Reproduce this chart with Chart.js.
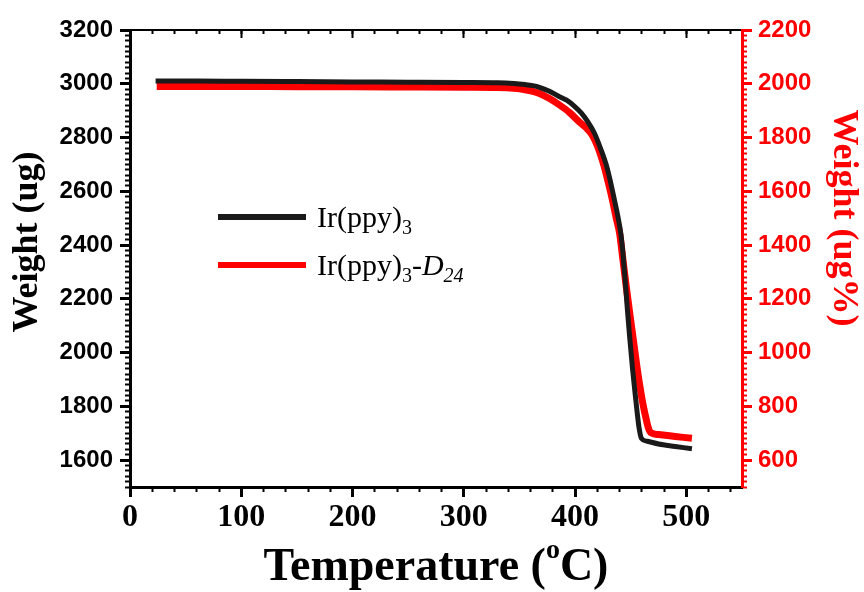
<!DOCTYPE html>
<html>
<head>
  <meta charset="UTF-8">
  <title>TGA</title>
  <script src="https://cdn.jsdelivr.net/npm/chart.js@4.4.1/dist/chart.umd.min.js"></script>
  <style>
    html, body { margin: 0; padding: 0; background: #fff; }
  </style>
</head>
<body>
  <canvas id="myChart" width="864" height="592"></canvas>
  <script>
    // Ir(ppy)3 - left axis (ug)
    const blackTemp = [23, 60, 100, 150, 200, 250, 300, 330, 345, 355, 362, 368, 377, 386, 392.4, 399, 405.7, 411.5, 417.4, 423,
      428.6, 432, 435.4, 438.3, 441.2, 443, 445, 447, 449, 451.5, 454, 456, 457.5, 459.6, 465, 475, 490, 505];
    const blackWeight = [3010, 3010, 3009, 3008, 3007, 3006, 3005, 3004, 3001, 2997, 2993, 2987, 2972, 2952, 2939, 2918, 2891, 2858, 2816, 2758,
      2690, 2632, 2567, 2510, 2440, 2370, 2270, 2160, 2060, 1945, 1845, 1770, 1720, 1681, 1670, 1660, 1651, 1642];

    // Ir(ppy)3-D24 - right axis (ug%)
    const redTemp = [24, 60, 100, 150, 200, 250, 300, 330, 345, 355, 362, 368, 377, 386, 395, 404, 410, 415, 420, 426,
      430, 433.6, 437, 440, 443, 446, 449, 452, 455, 458, 461, 464, 466, 468, 475, 490, 505];
    const redWeight = [1990, 1990, 1990, 1989, 1989, 1988, 1987, 1986, 1983, 1978, 1972, 1964, 1945, 1921, 1893, 1857, 1836, 1812, 1770, 1695,
      1630, 1567, 1500, 1444, 1345, 1245, 1150, 1058, 965, 880, 808, 750, 718, 702, 695, 688, 681];

    const seriesNames = ['Ir(ppy)3', 'Ir(ppy)3-D24'];
    const xRange = [0, 550];
    const yLeftRange = [1500, 3200];
    const yRightRange = [500, 2200];

    const serif = "'Liberation Serif', 'Times New Roman', serif";
    const sans = "'Liberation Sans', Arial, sans-serif";

    function pts(xs, ys) {
      return xs.map((x, i) => ({ x: x, y: ys[i] }));
    }

    function drawRich(ctx, parts, x, y, rot, color) {
      ctx.save();
      ctx.translate(x, y);
      ctx.rotate(rot);
      ctx.fillStyle = color;
      ctx.textBaseline = 'alphabetic';
      let w = 0;
      parts.forEach(p => { ctx.font = p.font; w += ctx.measureText(p.t).width; });
      let cx = -w / 2;
      parts.forEach(p => {
        ctx.font = p.font;
        ctx.fillText(p.t, cx, p.dy || 0);
        cx += ctx.measureText(p.t).width;
      });
      ctx.restore();
    }

    function drawLeft(ctx, parts, x, y) {
      ctx.save();
      ctx.fillStyle = '#000';
      ctx.textBaseline = 'alphabetic';
      let cx = x;
      parts.forEach(p => {
        ctx.font = p.font;
        ctx.fillText(p.t, cx, y + (p.dy || 0));
        cx += ctx.measureText(p.t).width;
      });
      ctx.restore();
    }

    const titlesAndLegend = {
      id: 'titlesAndLegend',
      afterDraw(chart) {
        const ctx = chart.ctx;
        const xs = chart.scales.x;
        const tb = 'bold 46px ' + serif;
        drawRich(ctx, [
          { t: 'Temperature (', font: tb },
          { t: 'o', font: 'bold 28px ' + serif, dy: -22 },
          { t: 'C)', font: tb }
        ], (xs.left + xs.right) / 2, 580, 0, '#000');

        const yb = 'bold 36px ' + serif;
        drawRich(ctx, [{ t: 'Weight (ug)', font: yb }], 37, 242, -Math.PI / 2, '#000');
        drawRich(ctx, [{ t: 'Weight (ug%)', font: yb }], 834, 218, Math.PI / 2, '#ff0000');

        // legend
        const reg = '30px ' + serif;
        const sub = '20px ' + serif;
        const it = 'italic 30px ' + serif;
        const itSub = 'italic 20px ' + serif;
        const rows = [
          [{ t: 'Ir(ppy)', font: reg }, { t: '3', font: sub, dy: 7 }],
          [{ t: 'Ir(ppy)', font: reg }, { t: '3', font: sub, dy: 7 }, { t: '-', font: reg },
           { t: 'D', font: it }, { t: '24', font: itSub, dy: 7 }]
        ];
        const rowY = [217, 265];
        chart.data.datasets.forEach((ds, i) => {
          ctx.save();
          ctx.strokeStyle = ds.borderColor;
          ctx.lineWidth = 6;
          ctx.beginPath();
          ctx.moveTo(218, rowY[i]);
          ctx.lineTo(306, rowY[i]);
          ctx.stroke();
          ctx.restore();
          drawLeft(ctx, rows[i], 317, rowY[i] + 10);
        });
      }
    };

    function axisBase(pos, range, step, len, width, color, w) {
      return {
        type: 'linear', position: pos, min: range[0], max: range[1], weight: w,
        border: { display: false },
        grid: { drawOnChartArea: false, drawTicks: true, tickLength: len, tickWidth: width, tickColor: color },
        ticks: { stepSize: step, display: false, includeBounds: false, autoSkip: false }
      };
    }

    const ctx = document.getElementById('myChart').getContext('2d');

    const xMain = axisBase('bottom', xRange, 100, 10, 3, '#000', 0);
    xMain.border = { display: true, color: '#000', width: 3 };
    xMain.ticks = { stepSize: 100, display: true, includeBounds: false, autoSkip: false, maxRotation: 0, padding: 2,
      color: '#000', font: { family: serif, weight: 'bold', size: 32 }, callback: v => String(v) };
    xMain.afterFit = s => { s.height = 105; };

    const xMinor = axisBase('bottom', xRange, 20, 5, 2, '#000', -1);
    xMinor.afterFit = s => { s.height = 0; };

    const xTop = axisBase('top', xRange, 100, -8, 2, '#000', 0);
    xTop.border = { display: true, color: '#000', width: 2 };
    xTop.afterFit = s => { s.height = 30; };

    const xTopMinor = axisBase('top', xRange, 20, -4, 2, '#000', -1);
    xTopMinor.afterFit = s => { s.height = 0; };

    const yMain = axisBase('left', yLeftRange, 200, 10, 3, '#000', 0);
    yMain.border = { display: true, color: '#000', width: 3 };
    yMain.ticks = { stepSize: 200, display: true, includeBounds: false, autoSkip: false, padding: 7,
      color: '#000', font: { family: sans, weight: 'bold', size: 24 }, callback: v => String(v) };
    yMain.afterFit = s => { s.width = 130; };

    const yMinor = axisBase('left', yLeftRange, 20, 5, 2, '#000', -1);
    yMinor.afterFit = s => { s.width = 0; };

    const y2Main = axisBase('right', yRightRange, 200, 10, 3, '#ff0000', 0);
    y2Main.border = { display: true, color: '#ff0000', width: 3 };
    y2Main.ticks = { stepSize: 200, display: true, includeBounds: false, autoSkip: false, padding: 6,
      color: '#ff0000', font: { family: sans, weight: 'bold', size: 24 }, callback: v => String(v) };
    y2Main.afterFit = s => { s.width = 122; };

    const y2Minor = axisBase('right', yRightRange, 20, 5, 2, '#ff0000', -1);
    y2Minor.afterFit = s => { s.width = 0; };

    const chart = new Chart(ctx, {
      type: 'line',
      data: {
        datasets: [{
          label: seriesNames[0],
          data: pts(blackTemp, blackWeight),
          borderColor: '#1a1a1a',
          borderWidth: 5,
          pointRadius: 0,
          cubicInterpolationMode: 'monotone',
          xAxisID: 'x',
          yAxisID: 'y'
        }, {
          label: seriesNames[1],
          data: pts(redTemp, redWeight),
          borderColor: '#ff0000',
          borderWidth: 7,
          pointRadius: 0,
          cubicInterpolationMode: 'monotone',
          xAxisID: 'x',
          yAxisID: 'y2'
        }]
      },
      options: {
        responsive: false,
        animation: false,
        layout: { padding: 0 },
        plugins: { legend: { display: false }, tooltip: { enabled: false } },
        scales: {
          x: xMain,
          xMinor: xMinor,
          xTop: xTop,
          xTopMinor: xTopMinor,
          y: yMain,
          yMinor: yMinor,
          y2: y2Main,
          y2Minor: y2Minor
        }
      },
      plugins: [titlesAndLegend]
    });
  </script>
</body>
</html>
